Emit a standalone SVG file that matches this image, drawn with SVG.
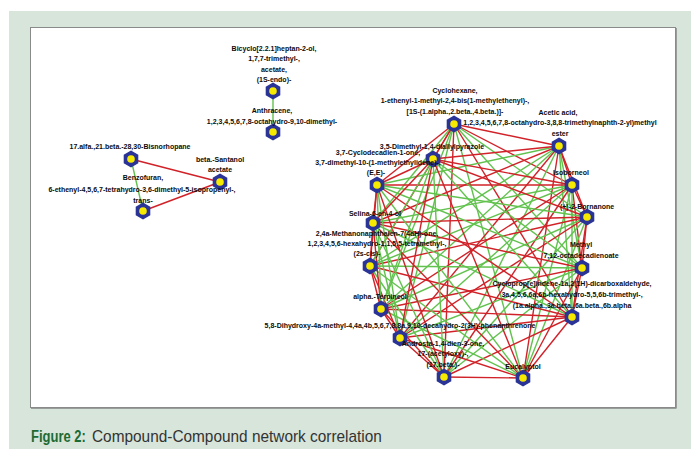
<svg xmlns="http://www.w3.org/2000/svg" width="691" height="449" viewBox="0 0 691 449">
<style>
.r{stroke:#d02228;stroke-width:1.4;fill:none}
.g{stroke:#62c24e;stroke-width:1.4;fill:none}
.lb{font-family:"Liberation Sans",Arial,sans-serif;font-weight:bold;font-size:7px;fill:#0c0c0c;text-anchor:middle}
.cap{font-family:"Liberation Sans",Arial,sans-serif}
</style>
<defs>
<g id="nd"><polygon points="0,-8.4 7.3,-4.2 7.3,4.2 0,8.4 -7.3,4.2 -7.3,-4.2" fill="#2a3396"/><circle r="3.8" fill="#f6ea00"/></g>
</defs>
<rect x="0" y="0" width="691" height="449" fill="#ffffff"/>
<rect x="9" y="11" width="682" height="438" fill="#d7e5da"/>
<rect x="31" y="28" width="645.5" height="380.5" fill="#5a5a5a"/>
<rect x="30.5" y="27.5" width="645" height="380" fill="#ffffff" stroke="#8a8a8a" stroke-width="1"/>
<text class="cap" transform="translate(31,442) scale(1,1.3)" font-size="13" font-weight="bold" fill="#1d6b34">Figure 2:</text>
<text class="cap" transform="translate(92,442) scale(1,1.1)" font-size="15.4" fill="#333333">Compound-Compound network correlation</text>
<g id="connectors">
<line class="g" x1="273" y1="91" x2="273" y2="132"/>
<line class="g" x1="131" y1="159" x2="143" y2="211"/>
<line class="r" x1="131" y1="159" x2="220" y2="182"/>
<line class="r" x1="220" y1="182" x2="143" y2="211"/>
<line class="r" x1="454" y1="124" x2="559" y2="146"/>
<line class="r" x1="454" y1="124" x2="572" y2="185"/>
<line class="g" x1="454" y1="124" x2="587" y2="217"/>
<line class="g" x1="454" y1="124" x2="582" y2="268"/>
<line class="r" x1="454" y1="124" x2="572" y2="317"/>
<line class="g" x1="454" y1="124" x2="523" y2="378"/>
<line class="r" x1="454" y1="124" x2="444" y2="377"/>
<line class="g" x1="454" y1="124" x2="400" y2="338"/>
<line class="g" x1="454" y1="124" x2="381" y2="309"/>
<line class="r" x1="454" y1="124" x2="370" y2="266"/>
<line class="g" x1="454" y1="124" x2="373" y2="223"/>
<line class="r" x1="454" y1="124" x2="377" y2="185"/>
<line class="r" x1="454" y1="124" x2="433" y2="159"/>
<line class="r" x1="559" y1="146" x2="572" y2="185"/>
<line class="r" x1="559" y1="146" x2="587" y2="217"/>
<line class="g" x1="559" y1="146" x2="582" y2="268"/>
<line class="g" x1="559" y1="146" x2="572" y2="317"/>
<line class="r" x1="559" y1="146" x2="523" y2="378"/>
<line class="g" x1="559" y1="146" x2="444" y2="377"/>
<line class="r" x1="559" y1="146" x2="400" y2="338"/>
<line class="g" x1="559" y1="146" x2="381" y2="309"/>
<line class="g" x1="559" y1="146" x2="370" y2="266"/>
<line class="r" x1="559" y1="146" x2="373" y2="223"/>
<line class="g" x1="559" y1="146" x2="377" y2="185"/>
<line class="r" x1="559" y1="146" x2="433" y2="159"/>
<line class="r" x1="572" y1="185" x2="587" y2="217"/>
<line class="r" x1="572" y1="185" x2="582" y2="268"/>
<line class="g" x1="572" y1="185" x2="572" y2="317"/>
<line class="g" x1="572" y1="185" x2="523" y2="378"/>
<line class="r" x1="572" y1="185" x2="444" y2="377"/>
<line class="g" x1="572" y1="185" x2="400" y2="338"/>
<line class="r" x1="572" y1="185" x2="381" y2="309"/>
<line class="g" x1="572" y1="185" x2="370" y2="266"/>
<line class="g" x1="572" y1="185" x2="373" y2="223"/>
<line class="r" x1="572" y1="185" x2="377" y2="185"/>
<line class="r" x1="572" y1="185" x2="433" y2="159"/>
<line class="r" x1="587" y1="217" x2="582" y2="268"/>
<line class="r" x1="587" y1="217" x2="572" y2="317"/>
<line class="g" x1="587" y1="217" x2="523" y2="378"/>
<line class="g" x1="587" y1="217" x2="444" y2="377"/>
<line class="r" x1="587" y1="217" x2="400" y2="338"/>
<line class="g" x1="587" y1="217" x2="381" y2="309"/>
<line class="r" x1="587" y1="217" x2="370" y2="266"/>
<line class="r" x1="587" y1="217" x2="373" y2="223"/>
<line class="g" x1="587" y1="217" x2="377" y2="185"/>
<line class="r" x1="587" y1="217" x2="433" y2="159"/>
<line class="r" x1="582" y1="268" x2="572" y2="317"/>
<line class="r" x1="582" y1="268" x2="523" y2="378"/>
<line class="g" x1="582" y1="268" x2="444" y2="377"/>
<line class="g" x1="582" y1="268" x2="400" y2="338"/>
<line class="r" x1="582" y1="268" x2="381" y2="309"/>
<line class="g" x1="582" y1="268" x2="370" y2="266"/>
<line class="r" x1="582" y1="268" x2="373" y2="223"/>
<line class="g" x1="582" y1="268" x2="377" y2="185"/>
<line class="g" x1="582" y1="268" x2="433" y2="159"/>
<line class="r" x1="572" y1="317" x2="523" y2="378"/>
<line class="r" x1="572" y1="317" x2="444" y2="377"/>
<line class="r" x1="572" y1="317" x2="400" y2="338"/>
<line class="r" x1="572" y1="317" x2="381" y2="309"/>
<line class="r" x1="572" y1="317" x2="370" y2="266"/>
<line class="g" x1="572" y1="317" x2="373" y2="223"/>
<line class="r" x1="572" y1="317" x2="377" y2="185"/>
<line class="g" x1="572" y1="317" x2="433" y2="159"/>
<line class="r" x1="523" y1="378" x2="444" y2="377"/>
<line class="r" x1="523" y1="378" x2="400" y2="338"/>
<line class="g" x1="523" y1="378" x2="381" y2="309"/>
<line class="g" x1="523" y1="378" x2="370" y2="266"/>
<line class="r" x1="523" y1="378" x2="373" y2="223"/>
<line class="g" x1="523" y1="378" x2="377" y2="185"/>
<line class="r" x1="523" y1="378" x2="433" y2="159"/>
<line class="r" x1="444" y1="377" x2="400" y2="338"/>
<line class="r" x1="444" y1="377" x2="381" y2="309"/>
<line class="g" x1="444" y1="377" x2="370" y2="266"/>
<line class="g" x1="444" y1="377" x2="373" y2="223"/>
<line class="r" x1="444" y1="377" x2="377" y2="185"/>
<line class="g" x1="444" y1="377" x2="433" y2="159"/>
<line class="r" x1="400" y1="338" x2="381" y2="309"/>
<line class="r" x1="400" y1="338" x2="370" y2="266"/>
<line class="g" x1="400" y1="338" x2="373" y2="223"/>
<line class="g" x1="400" y1="338" x2="377" y2="185"/>
<line class="r" x1="400" y1="338" x2="433" y2="159"/>
<line class="r" x1="381" y1="309" x2="370" y2="266"/>
<line class="r" x1="381" y1="309" x2="373" y2="223"/>
<line class="g" x1="381" y1="309" x2="377" y2="185"/>
<line class="g" x1="381" y1="309" x2="433" y2="159"/>
<line class="r" x1="370" y1="266" x2="373" y2="223"/>
<line class="r" x1="370" y1="266" x2="377" y2="185"/>
<line class="g" x1="370" y1="266" x2="433" y2="159"/>
<line class="r" x1="373" y1="223" x2="377" y2="185"/>
<line class="r" x1="373" y1="223" x2="433" y2="159"/>
<line class="r" x1="377" y1="185" x2="433" y2="159"/>
</g>
<g id="n-bicyclo"><use href="#nd" x="273" y="91"/><text class="lb" x="274" y="50.5">Bicyclo[2.2.1]heptan-2-ol,</text><text class="lb" x="274" y="61">1,7,7-trimethyl-,</text><text class="lb" x="274" y="71.5">acetate,</text><text class="lb" x="274" y="82">(1S-endo)-</text></g>
<g id="n-anthracene"><use href="#nd" x="273" y="132"/><text class="lb" x="272" y="113">Anthracene,</text><text class="lb" x="272" y="123.5">1,2,3,4,5,6,7,8-octahydro-9,10-dimethyl-</text></g>
<g id="n-bisnorhopane"><use href="#nd" x="131" y="159"/><text class="lb" x="130" y="148.5">17.alfa.,21.beta.-28,30-Bisnorhopane</text></g>
<g id="n-santanol"><use href="#nd" x="220" y="182"/><text class="lb" x="220" y="161.5">beta.-Santanol</text><text class="lb" x="220" y="171.5">acetate</text></g>
<g id="n-benzofuran"><use href="#nd" x="143" y="211"/><text class="lb" x="143" y="180">Benzofuran,</text><text class="lb" x="142" y="192">6-ethenyl-4,5,6,7-tetrahydro-3,6-dimethyl-5-isopropenyl-,</text><text class="lb" x="143" y="202.5">trans-</text></g>
<g id="n-cyclohexane"><use href="#nd" x="454" y="124"/><text class="lb" x="455" y="92.5">Cyclohexane,</text><text class="lb" x="455" y="103">1-ethenyl-1-methyl-2,4-bis(1-methylethenyl)-,</text><text class="lb" x="455" y="113.5">[1S-(1.alpha.,2.beta.,4.beta.)]-</text></g>
<g id="n-acetic"><use href="#nd" x="559" y="146"/><text class="lb" x="558" y="114.5">Acetic acid,</text><text class="lb" x="560" y="125">1,2,3,4,5,6,7,8-octahydro-3,8,8-trimethylnaphth-2-yl)methyl</text><text class="lb" x="560" y="135.5">ester</text></g>
<g id="n-pyrazole"><use href="#nd" x="433" y="159"/><text class="lb" x="432" y="148.5">3,5-Dimethyl-1,4-diallylpyrazole</text></g>
<g id="n-cyclodecadienone"><use href="#nd" x="377" y="185"/><text class="lb" x="378" y="154.5">3,7-Cyclodecadien-1-one,</text><text class="lb" x="378" y="164.5">3,7-dimethyl-10-(1-methylethylidene)-,</text><text class="lb" x="376" y="174.5">(E,E)-</text></g>
<g id="n-isoborneol"><use href="#nd" x="572" y="185"/><text class="lb" x="571" y="174.5">Isoborneol</text></g>
<g id="n-bornanone"><use href="#nd" x="587" y="217"/><text class="lb" x="587" y="208.5">(+)-2-Bornanone</text></g>
<g id="n-selina"><use href="#nd" x="373" y="223"/><text class="lb" x="375" y="215.5">Selina-6-en-4-ol</text></g>
<g id="n-methanonaphthalenone"><use href="#nd" x="370" y="266"/><text class="lb" x="377" y="235.5">2,4a-Methanonaphthalen-7(4aH)-one,</text><text class="lb" x="377" y="245.5">1,2,3,4,5,6-hexahydro-1,1,5,5-tetramethyl-,</text><text class="lb" x="367" y="255.5">(2s-cis)-</text></g>
<g id="n-methyl-octadecadienoate"><use href="#nd" x="582" y="268"/><text class="lb" x="581" y="246.5">Methyl</text><text class="lb" x="581" y="257.5">7,12-octadecadienoate</text></g>
<g id="n-terpineol"><use href="#nd" x="381" y="309"/><text class="lb" x="380" y="298.5">alpha.-Terpineol</text></g>
<g id="n-cyclopropindene"><use href="#nd" x="572" y="317"/><text class="lb" x="572" y="285.5">Cycloprop[e]indene-1a,2(1H)-dicarboxaldehyde,</text><text class="lb" x="572" y="296.5">3a,4,5,6,6a,6b-hexahydro-5,5,6b-trimethyl-,</text><text class="lb" x="572" y="307.5">(1a.alpha.,3a.beta.,6a.beta.,6b.alpha</text></g>
<g id="n-phenanthrenone"><use href="#nd" x="400" y="338"/><text class="lb" x="400" y="327.5">5,8-Dihydroxy-4a-methyl-4,4a,4b,5,6,7,8,8a,9,10-decahydro-2(3H)-phenanthrenone</text></g>
<g id="n-androsta"><use href="#nd" x="444" y="377"/><text class="lb" x="443" y="345.5">Androsta-1,4-dien-3-one,</text><text class="lb" x="443" y="355.5">17-(acetyloxy)-,</text><text class="lb" x="443" y="366.5">(17.beta.)-</text></g>
<g id="n-eucalyptol"><use href="#nd" x="523" y="378"/><text class="lb" x="523" y="368.5">Eucalyptol</text></g>
</svg>
